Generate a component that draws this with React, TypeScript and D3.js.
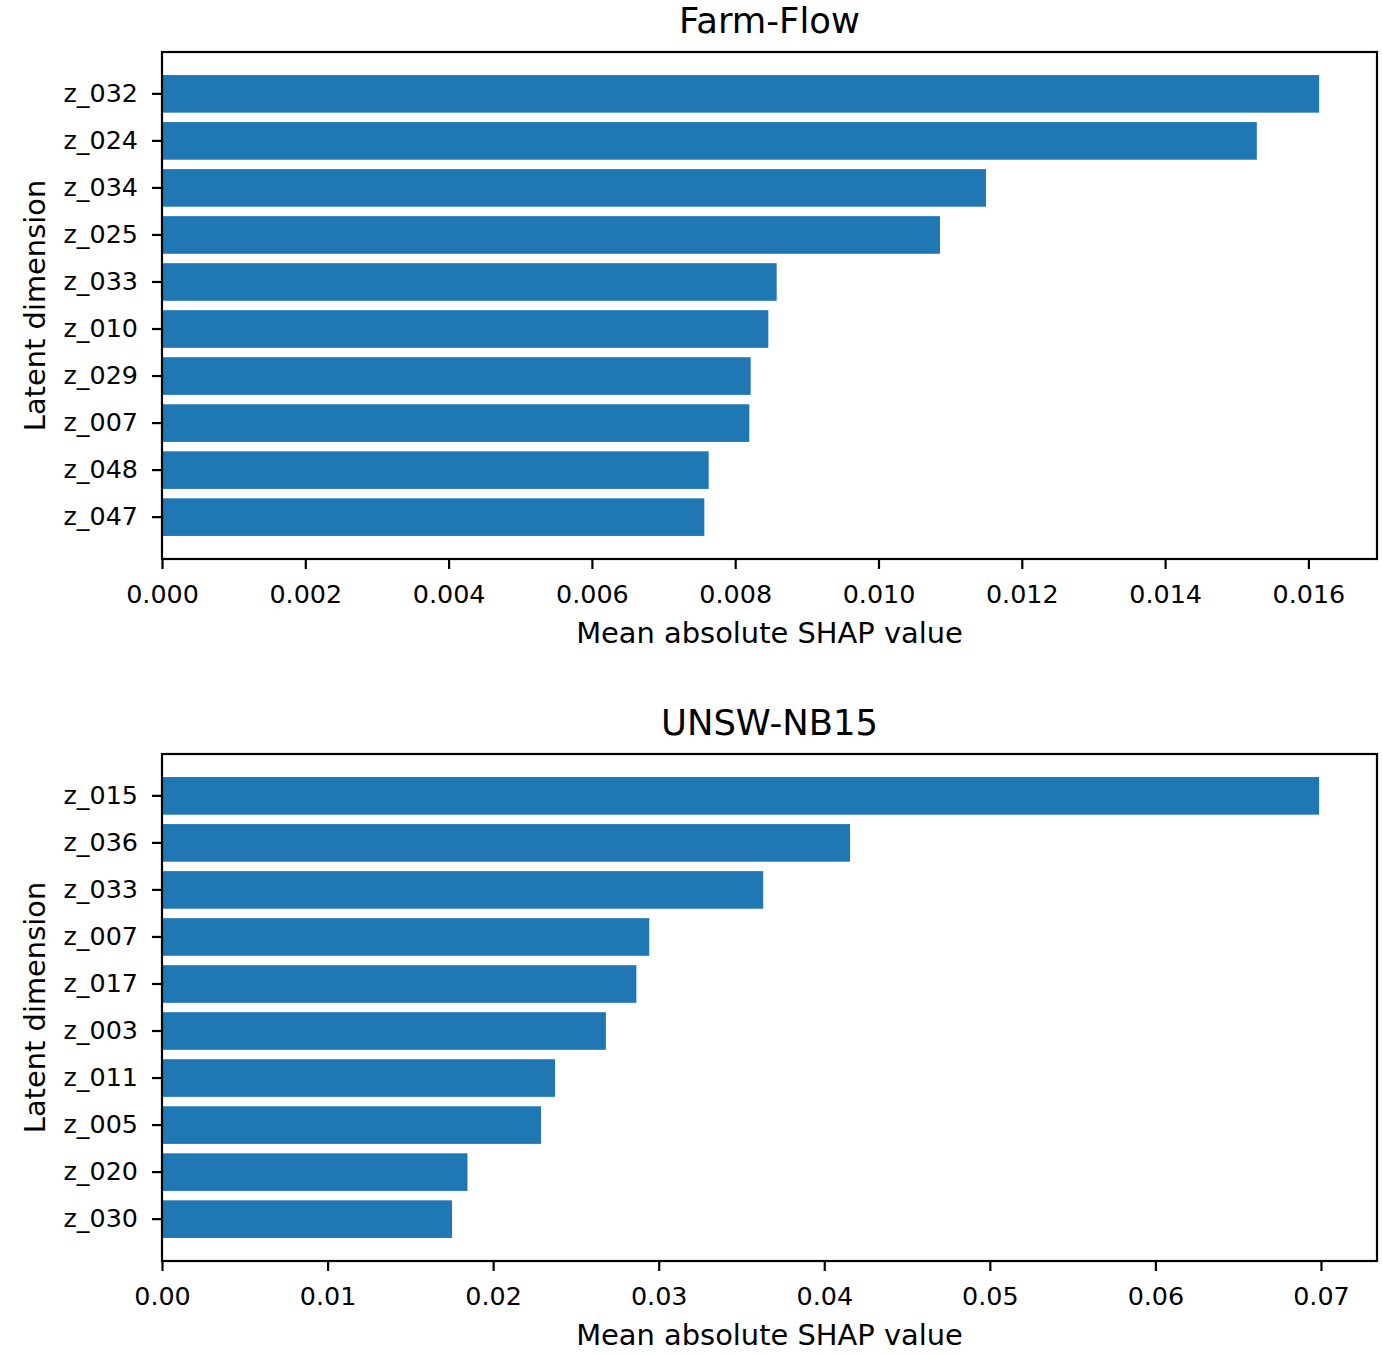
import * as d3 from 'd3';
import React, { useEffect, useRef } from 'react';

// Farm-Flow panel (top to bottom)
const farmLabels = ['z_032', 'z_024', 'z_034', 'z_025', 'z_033', 'z_010', 'z_029', 'z_007', 'z_048', 'z_047'];
const farmValues = [0.01615, 0.01528, 0.0115, 0.010858, 0.008579, 0.008462, 0.008216, 0.008197, 0.00763, 0.007569];
const farmTicks = [0, 0.002, 0.004, 0.006, 0.008, 0.01, 0.012, 0.014, 0.016];

// UNSW-NB15 panel (top to bottom)
const unswLabels = ['z_015', 'z_036', 'z_033', 'z_007', 'z_017', 'z_003', 'z_011', 'z_005', 'z_020', 'z_030'];
const unswValues = [0.06989, 0.04156, 0.03631, 0.02943, 0.02865, 0.02681, 0.02374, 0.02289, 0.01845, 0.01752];
const unswTicks = [0, 0.01, 0.02, 0.03, 0.04, 0.05, 0.06, 0.07];

const W = 1382;
const H = 1355;
const margin = { left: 162, right: 1377 };
const panelHeight = 507;
const FONT = '"DejaVu Sans", sans-serif';
const TICK_FS = 25.4;
const LABEL_FS = 28.9;
const TITLE_FS = 35.4;
const LW = 2.2;

interface PanelProps {
  title: string;
  labels: string[];
  values: number[];
  ticks: number[];
  fmt: string;
  top: number;
}

const Panel: React.FC<PanelProps> = ({ title, labels, values, ticks, fmt, top }) => {
  const gRef = useRef<SVGGElement>(null);
  useEffect(() => {
    if (!gRef.current) return;
    const g = d3.select(gRef.current);
    g.selectAll('*').remove();
    const bottom = top + panelHeight;

    const x = d3
      .scaleLinear()
      .domain([0, (d3.max(values) || 0) * 1.05])
      .range([margin.left, margin.right]);
    const y = d3
      .scaleBand<string>()
      .domain(labels)
      .range([top, bottom])
      .paddingInner(0.2)
      .paddingOuter(0.49);

    g.selectAll('.bar')
      .data(values)
      .enter()
      .append('rect')
      .attr('class', 'bar')
      .attr('x', x(0))
      .attr('y', (_, i) => y(labels[i])!)
      .attr('width', (d) => x(d) - x(0))
      .attr('height', y.bandwidth())
      .attr('fill', '#1f77b4');

    const xAxis = g
      .append('g')
      .attr('transform', `translate(0,${bottom})`)
      .call(
        d3
          .axisBottom(x)
          .tickValues(ticks)
          .tickFormat((d) => d3.format(fmt)(d as number))
          .tickSize(10)
          .tickPadding(16)
      );
    const yAxis = g
      .append('g')
      .attr('transform', `translate(${margin.left},0)`)
      .call(d3.axisLeft(y).tickSize(10).tickPadding(14));

    [xAxis, yAxis].forEach((a) => {
      a.select('.domain').remove();
      a.selectAll('line').attr('stroke', '#000').attr('stroke-width', LW);
      a.selectAll('text')
        .attr('fill', '#000')
        .style('font-family', FONT)
        .style('font-size', `${TICK_FS}px`);
    });

    // frame
    g.append('rect')
      .attr('x', margin.left)
      .attr('y', top)
      .attr('width', margin.right - margin.left)
      .attr('height', panelHeight)
      .attr('fill', 'none')
      .attr('stroke', '#000')
      .attr('stroke-width', LW);

    g.append('text')
      .attr('x', (margin.left + margin.right) / 2)
      .attr('y', top - 19)
      .attr('text-anchor', 'middle')
      .style('font-family', FONT)
      .style('font-size', `${TITLE_FS}px`)
      .text(title);

    g.append('text')
      .attr('x', (margin.left + margin.right) / 2)
      .attr('y', bottom + 84)
      .attr('text-anchor', 'middle')
      .style('font-family', FONT)
      .style('font-size', `${LABEL_FS}px`)
      .text('Mean absolute SHAP value');

    g.append('text')
      .attr('transform', `translate(45,${(top + bottom) / 2}) rotate(-90)`)
      .attr('text-anchor', 'middle')
      .style('font-family', FONT)
      .style('font-size', `${LABEL_FS}px`)
      .text('Latent dimension');
  }, [title, labels, values, ticks, fmt, top]);
  return <g ref={gRef} />;
};

const App: React.FC = () => (
  <svg
    width={W}
    height={H}
    viewBox={`0 0 ${W} ${H}`}
    style={{ position: 'absolute', left: 0, top: 0, background: '#fff' }}
  >
    <rect width={W} height={H} fill="#fff" />
    <Panel title="Farm-Flow" labels={farmLabels} values={farmValues} ticks={farmTicks} fmt=".3f" top={52} />
    <Panel title="UNSW-NB15" labels={unswLabels} values={unswValues} ticks={unswTicks} fmt=".2f" top={754} />
  </svg>
);

export default App;
